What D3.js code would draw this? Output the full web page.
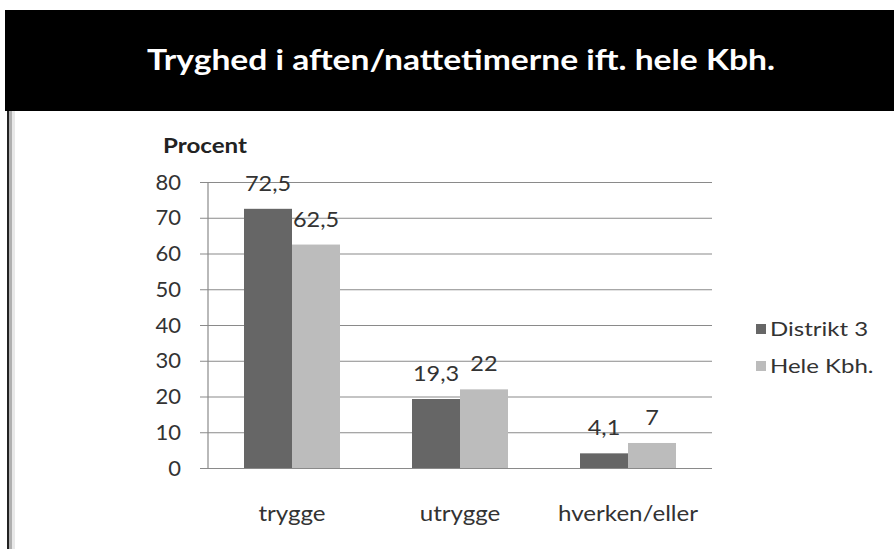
<!DOCTYPE html>
<html><head><meta charset="utf-8">
<script src="https://cdn.jsdelivr.net/npm/d3@7"></script>
<style>body{margin:0;background:#fff;}svg{display:block;}</style>
</head><body>
<script>
const categories = ["trygge", "utrygge", "hverken/eller"];
const seriesNames = ["Distrikt 3", "Hele Kbh."];
const distrikt3 = [72.5, 19.3, 4.1];
const heleKbh = [62.5, 22, 7];
const valueLabels = [["72,5", "19,3", "4,1"], ["62,5", "22", "7"]];
const yTicks = [0, 10, 20, 30, 40, 50, 60, 70, 80];
const title = "Tryghed i aften/nattetimerne ift. hele Kbh.";
const yLabel = "Procent";

const W = 894, H = 549;
const colors = ["#666666", "#bcbcbc"];
const font = "Lato, 'Open Sans', sans-serif";

const svg = d3.select("body").append("svg").attr("width", W).attr("height", H);
svg.append("rect").attr("width", W).attr("height", H).attr("fill", "#fff");

// place text with horizontal stretch
function stext(parent, x, y, str, size, sx, anchor, weight, fill) {
  return parent.append("text")
    .attr("transform", `translate(${x},${y}) scale(${sx},1)`)
    .attr("text-anchor", anchor || "start")
    .attr("font-family", font).attr("font-size", size)
    .attr("font-weight", weight || "normal")
    .attr("fill", fill || "#333").text(str);
}

// banner
svg.append("rect").attr("x", 5).attr("y", 10).attr("width", W - 5).attr("height", 101).attr("fill", "#000");
stext(svg, 461, 70, title, 28, 1.2, "middle", "bold", "#fff");

// left frame line
svg.append("rect").attr("x", 7).attr("y", 111).attr("width", 2).attr("height", H - 111).attr("fill", "#222");
svg.append("rect").attr("x", 9).attr("y", 111).attr("width", 3).attr("height", H - 111).attr("fill", "#b0b0b0");
svg.append("rect").attr("x", 12).attr("y", 111).attr("width", 3).attr("height", H - 111).attr("fill", "#e8e8e8");

const x0 = d3.scaleBand().domain(categories).range([208, 712]).paddingInner(72/168).paddingOuter(36/168);
const x1 = d3.scaleBand().domain(seriesNames).range([0, x0.bandwidth()]);
const y = d3.scaleLinear().domain([0, 80]).range([468, 182]);

// gridlines + y ticks
const gAxis = svg.append("g").attr("transform", "translate(208,0)")
  .call(d3.axisLeft(y).tickValues(yTicks).tickSize(-(712 - 208)).tickPadding(27).tickFormat(d3.format("d")));
gAxis.select(".domain").remove();
gAxis.selectAll(".tick line").attr("stroke", "#8a8a8a").attr("stroke-width", 1.2).attr("x1", -8);
gAxis.selectAll(".tick text").attr("fill", "#333").attr("font-family", font).attr("font-size", 22);
svg.append("line").attr("x1", 208).attr("x2", 208).attr("y1", y(80)).attr("y2", y(0)).attr("stroke", "#8a8a8a").attr("stroke-width", 1.2);

const data = [distrikt3, heleKbh];
data.forEach((vals, si) => {
  svg.append("g").selectAll("rect").data(vals).join("rect")
    .attr("x", (d, i) => x0(categories[i]) + x1(seriesNames[si]))
    .attr("y", d => y(d)).attr("width", x1.bandwidth()).attr("height", d => y(0) - y(d))
    .attr("fill", colors[si]);
  const lg = svg.append("g");
  vals.forEach((d, i) => {
    stext(lg, x0(categories[i]) + x1(seriesNames[si]) + x1.bandwidth() / 2, y(d) - 18,
      valueLabels[si][i], 21, 1.12, "middle");
  });
});

// category labels
const cg = svg.append("g");
categories.forEach(c => stext(cg, x0(c) + x0.bandwidth() / 2, 521, c, 21, 1.15, "middle"));

// y label
stext(svg, 163, 153, yLabel, 21, 1.15, "start", "bold", "#222");

// legend
const leg = svg.append("g");
seriesNames.forEach((s, i) => {
  const yy = 329 + i * 37;
  leg.append("rect").attr("x", 756).attr("y", yy - 5).attr("width", 10).attr("height", 10).attr("fill", colors[i]);
  stext(leg, 770, yy + 7, s, 20, 1.2, "start");
});
</script>
</body></html>
